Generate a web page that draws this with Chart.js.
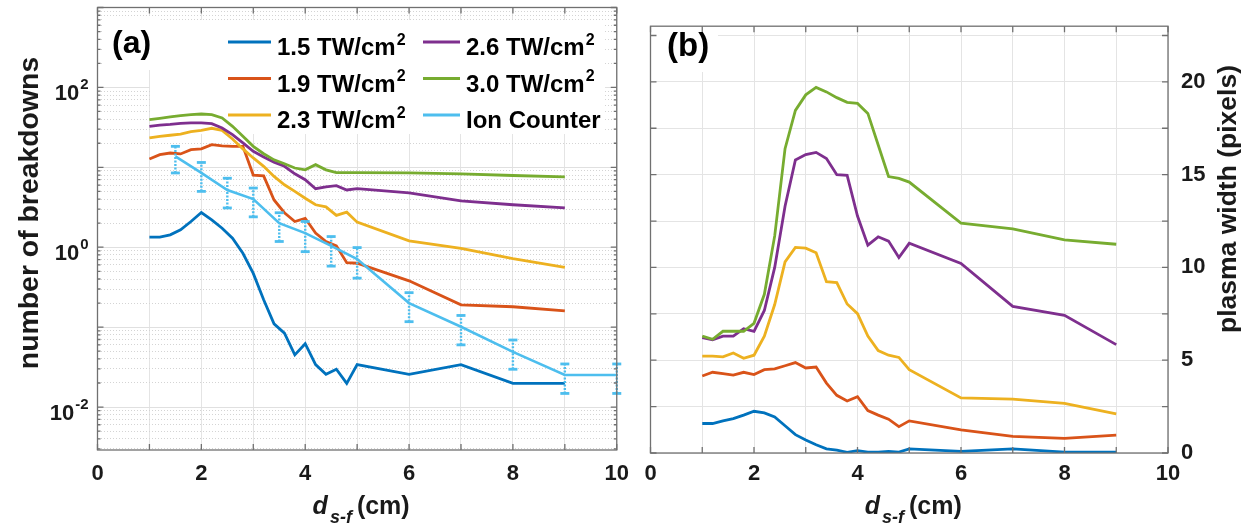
<!DOCTYPE html>
<html>
<head>
<meta charset="utf-8">
<script src="https://cdn.jsdelivr.net/npm/chart.js@4.4.1/dist/chart.umd.min.js"></script>
<style>
  html, body { margin: 0; padding: 0; background: #fff; }
  #wrap { position: relative; width: 1251px; height: 529px; overflow: hidden; }
  #chartA { position: absolute; left: 0; top: 0; }
  #chartB { position: absolute; left: 630px; top: 0; }
</style>
</head>
<body>
<div id="wrap">
  <canvas id="chartA" width="640" height="529"></canvas>
  <canvas id="chartB" width="621" height="529"></canvas>
</div>
<script>
// ── Data ───────────────────────────────────────────────────────────
// source-focus distance d_s-f (cm), shared by all intensity series
const distances = [1, 1.2, 1.4, 1.6, 1.8, 2, 2.2, 2.4, 2.6, 2.8, 3, 3.2, 3.4, 3.6, 3.8,
  4, 4.2, 4.4, 4.6, 4.8, 5, 6, 7, 8, 9];

const seriesLabels = ['1.5 TW/cm²', '1.9 TW/cm²', '2.3 TW/cm²', '2.6 TW/cm²', '3.0 TW/cm²'];
const seriesColors = ['#0072BD', '#D95319', '#EDB120', '#7E2F8E', '#77AC30'];
const ionLabel = 'Ion Counter';
const ionColor = '#4DBEEE';

// (a) number of breakdowns (log axis)
const breakdowns15 = [1.34, 1.34, 1.43, 1.65, 2.1, 2.72, 2.2, 1.73, 1.3, 0.84, 0.47, 0.22, 0.11, 0.084, 0.045,
  0.062, 0.034, 0.0257, 0.0297, 0.0198, 0.034, 0.0257, 0.034, 0.0198, 0.0198];
const breakdowns19 = [12.7, 14.4, 15.1, 14.7, 16.6, 17, 19.2, 18.6, 18.3, 18.3, 8.0, 7.8, 3.9, 2.7, 2.1,
  2.3, 1.5, 1.18, 1.04, 0.64, 0.63, 0.38, 0.19, 0.18, 0.16];
const breakdowns23 = [23.3, 24.4, 25.2, 26, 27.9, 29, 30.8, 29, 22.6, 17, 13.1, 10.3, 7.7, 6.05, 5.0,
  4.1, 3.4, 3.2, 2.5, 2.75, 2.06, 1.2, 0.97, 0.72, 0.56];
const breakdowns26 = [32.6, 33.8, 34.5, 35.5, 35.9, 35.9, 35.2, 31, 25.6, 20.2, 15.9, 13.5, 11.6, 10.3, 8.3,
  7.0, 5.4, 5.7, 5.9, 5.2, 5.4, 4.8, 3.8, 3.4, 3.1];
const breakdowns30 = [39.5, 41, 42.7, 44.4, 45.6, 46.5, 45.6, 41.5, 32.6, 24.4, 18.3, 14.8, 12.4, 11.1, 9.8,
  9.3, 10.8, 9.3, 8.6, 8.6, 8.6, 8.5, 8.3, 7.9, 7.6];

// ion counter with error bars
const ionDistances = [1.5, 2, 2.5, 3, 3.5, 4, 4.5, 5, 6, 7, 8, 9, 10];
const ionCounts = [13.7, 8.5, 5.2, 4.0, 2.0, 1.5, 1.04, 0.71, 0.2, 0.101, 0.049, 0.0252, 0.0252];
const ionHigh = [18.3, 11.5, 7.3, 5.5, 2.7, 2.1, 1.36, 0.99, 0.27, 0.14, 0.069, 0.0346, 0.0346];
const ionLow = [8.5, 5.0, 3.1, 2.4, 1.18, 0.88, 0.58, 0.41, 0.117, 0.06, 0.0297, 0.0148, 0.0148];

// (b) plasma width (pixels)
const width15 = [1.59, 1.59, 1.73, 1.85, 2.04, 2.25, 2.16, 1.94, 1.47, 0.99, 0.7, 0.44, 0.22, 0.15, 0.04,
  0.13, 0.05, 0.05, 0.09, 0.05, 0.22, 0.09, 0.22, 0.05, 0.04];
const width19 = [4.15, 4.35, 4.28, 4.2, 4.35, 4.23, 4.49, 4.53, 4.7, 4.87, 4.58, 4.63, 3.77, 3.11, 2.8,
  3.03, 2.29, 2.04, 1.82, 1.42, 1.73, 1.25, 0.9, 0.79, 0.96];
const width23 = [5.22, 5.22, 5.18, 5.39, 5.1, 5.27, 6.3, 8.0, 10.3, 11.08, 11.04, 10.79, 9.23, 9.18, 8.03,
  7.51, 6.3, 5.52, 5.27, 5.15, 4.49, 2.97, 2.9, 2.68, 2.11];
const width26 = [6.22, 6.1, 6.3, 6.3, 6.7, 6.56, 7.68, 10.0, 13.3, 15.79, 16.08, 16.2, 15.87, 15.0, 14.96,
  12.77, 11.2, 11.65, 11.42, 10.53, 11.3, 10.22, 7.9, 7.42, 5.84];
const width30 = [6.3, 6.13, 6.56, 6.56, 6.56, 6.99, 8.55, 11.7, 16.4, 18.46, 19.3, 19.7, 19.46, 19.15, 18.9,
  18.84, 18.3, 16.6, 14.9, 14.8, 14.6, 12.39, 12.08, 11.48, 11.25];

// ── Axis ticks and titles ─────────────────────────────────────────
const xTickValues = [0, 1, 2, 3, 4, 5, 6, 7, 8, 9, 10];
const widthTickValues = [0, 2.5, 5, 7.5, 10, 12.5, 15, 17.5, 20, 22.5];
const decadeExponents = [-2, 0, 2];           // labelled decades on the log axis
const logMin = 0.0029, logMax = 1000;
const yTitleA = 'number of breakdowns';
const yTitleB = 'plasma width (pixels)';
const xTitleParts = ['d', 's-f', '(cm)'];

// ── Styling helpers ───────────────────────────────────────────────
const FONT = '"Liberation Sans", Arial, Helvetica, sans-serif';
const TEXT = '#1a1a1a';
const FRAME = '#707070';
Chart.defaults.font.family = FONT;

function font(size, style) {
  return (style || 'bold') + ' ' + size + 'px ' + FONT;
}

function isDecade(v) {
  const l = Math.log10(v);
  return Math.abs(l - Math.round(l)) < 1e-9;
}

// every 1..9 x 10^n inside the log range
function buildLogTicks() {
  const out = [];
  for (let e = -3; e <= 3; e++) {
    for (let k = 1; k <= 9; k++) {
      const v = parseFloat((k * Math.pow(10, e)).toPrecision(3));
      if (v >= logMin && v <= logMax) out.push(v);
    }
  }
  return out;
}

function lineSet(label, values, color, order) {
  return {
    label: label,
    data: distances.map(function (d, i) { return { x: d, y: values[i] }; }),
    borderColor: color,
    backgroundColor: color,
    borderWidth: 2.8,
    pointRadius: 0,
    tension: 0,
    fill: false,
    order: order,
  };
}

// text ending in "²" gets a raised small 2
function drawSupLabel(ctx, text, x, y, size) {
  let base = text, sup = '';
  if (text.endsWith('²')) { base = text.slice(0, -1); sup = '2'; }
  ctx.font = font(size);
  ctx.textAlign = 'left';
  ctx.fillText(base, x, y);
  if (sup) {
    const w = ctx.measureText(base).width;
    ctx.font = font(Math.round(size * 0.68));
    ctx.fillText(sup, x + w + 1, y - size * 0.42);
  }
}

function drawFrame(chart, majorTest) {
  const ctx = chart.ctx, a = chart.chartArea;
  const xs = chart.scales.x, ys = chart.scales.y;
  ctx.save();
  ctx.strokeStyle = FRAME;
  ctx.lineWidth = 1.3;
  ctx.beginPath();
  xs.ticks.forEach(function (t) {
    const px = xs.getPixelForValue(t.value);
    ctx.moveTo(px, a.bottom); ctx.lineTo(px, a.bottom - 6);
    ctx.moveTo(px, a.top); ctx.lineTo(px, a.top + 6);
  });
  ys.ticks.forEach(function (t) {
    const py = ys.getPixelForValue(t.value);
    const len = majorTest(t.value) ? 6 : 3;
    ctx.moveTo(a.left, py); ctx.lineTo(a.left + len, py);
    ctx.moveTo(a.right, py); ctx.lineTo(a.right - len, py);
  });
  ctx.stroke();
  ctx.strokeRect(a.left, a.top, a.right - a.left, a.bottom - a.top);
  ctx.restore();
}

function drawRotatedTitle(ctx, text, cx, cy, targetWidth) {
  ctx.save();
  ctx.font = font(22);
  const size = 22 * targetWidth / ctx.measureText(text).width;
  ctx.font = font(size.toFixed(1));
  ctx.translate(cx, cy);
  ctx.rotate(-Math.PI / 2);
  ctx.textAlign = 'center';
  ctx.textBaseline = 'middle';
  ctx.fillStyle = TEXT;
  ctx.fillText(text, 0, 0);
  ctx.restore();
}

function drawDistanceTitle(ctx, cx, baseline) {
  const main = font(25, 'italic bold'), sub = font(18, 'italic bold'), plain = font(25);
  ctx.save();
  ctx.fillStyle = TEXT;
  ctx.textAlign = 'left';
  ctx.textBaseline = 'alphabetic';
  ctx.font = main; const w1 = ctx.measureText(xTitleParts[0]).width;
  ctx.font = sub; const w2 = ctx.measureText(xTitleParts[1]).width;
  ctx.font = plain; const w3 = ctx.measureText(xTitleParts[2]).width;
  const gap1 = 2, gap2 = 5;
  let x = cx - (w1 + gap1 + w2 + gap2 + w3) / 2;
  ctx.font = main; ctx.fillText(xTitleParts[0], x, baseline); x += w1 + gap1;
  ctx.font = sub; ctx.fillText(xTitleParts[1], x, baseline + 9); x += w2 + gap2;
  ctx.font = plain; ctx.fillText(xTitleParts[2], x, baseline);
  ctx.restore();
}

function whiteBoxes(chart, boxes) {
  const ctx = chart.ctx;
  ctx.save();
  ctx.fillStyle = '#fff';
  boxes.forEach(function (b) { ctx.fillRect(b[0], b[1], b[2], b[3]); });
  ctx.restore();
}

const tickFont = { family: FONT, size: 22, weight: 'bold' };

// ── Panel (a) ─────────────────────────────────────────────────────
const breakdownSeries = [breakdowns15, breakdowns19, breakdowns23, breakdowns26, breakdowns30];
const datasetsA = breakdownSeries.map(function (vals, i) {
  return lineSet(seriesLabels[i], vals, seriesColors[i], 6 - i);
});

datasetsA.push({
  label: ionLabel,
  data: ionDistances.map(function (d, i) { return { x: d, y: ionCounts[i] }; }),
  borderColor: ionColor,
  backgroundColor: ionColor,
  borderWidth: 2.6,
  pointRadius: 0,
  tension: 0,
  order: 0,
});

// error bars: low/high pairs separated by gaps
const errorPoints = [];
ionDistances.forEach(function (d, i) {
  errorPoints.push({ x: d, y: ionLow[i] });
  errorPoints.push({ x: d, y: ionHigh[i] });
  errorPoints.push({ x: d, y: null });
});
datasetsA.push({
  label: '',
  isErrorBar: true,
  data: errorPoints,
  borderColor: ionColor,
  borderWidth: 2.4,
  borderDash: [2, 1.5],
  spanGaps: false,
  clip: false,
  pointStyle: 'line',
  pointRadius: 4.5,
  pointBorderWidth: 2.8,
  pointBorderColor: ionColor,
  pointBackgroundColor: ionColor,
  order: 1,
});

const decorA = {
  id: 'decorA',
  beforeDatasetsDraw: function (chart) {
    whiteBoxes(chart, [[104, 16, 56, 54], [150, 20, 455, 114]]);
  },
  afterDraw: function (chart) {
    const ctx = chart.ctx, a = chart.chartArea, ys = chart.scales.y;
    drawFrame(chart, isDecade);

    // decade labels 10^n
    ctx.save();
    ctx.fillStyle = TEXT;
    ctx.textBaseline = 'alphabetic';
    decadeExponents.forEach(function (e) {
      const py = ys.getPixelForValue(Math.pow(10, e));
      const exp = String(e);
      ctx.font = font(15);
      const ew = ctx.measureText(exp).width;
      const right = a.left - 9;
      ctx.textAlign = 'left';
      ctx.fillText(exp, right - ew, py + 2);
      ctx.font = font(22);
      ctx.textAlign = 'right';
      ctx.fillText('10', right - ew - 1, py + 13);
    });
    ctx.restore();

    drawRotatedTitle(ctx, yTitleA, 30, 213, 312);
    drawDistanceTitle(ctx, (a.left + a.right) / 2 + 4, 514);

    ctx.save();
    ctx.fillStyle = '#000';
    ctx.font = font(32);
    ctx.textAlign = 'left';
    ctx.fillText('(a)', 112, 53);

    // legend, 2 columns x 3 rows
    const entries = chart.data.datasets.filter(function (d) { return !d.isErrorBar; });
    const rowsY = [42, 78.5, 115];
    const cols = [{ l0: 228, l1: 271, tx: 277 }, { l0: 423, l1: 460, tx: 466 }];
    entries.forEach(function (d, i) {
      const col = cols[Math.floor(i / 3)], ly = rowsY[i % 3];
      ctx.strokeStyle = d.borderColor;
      ctx.lineWidth = 2.8;
      ctx.beginPath();
      ctx.moveTo(col.l0, ly);
      ctx.lineTo(col.l1, ly);
      ctx.stroke();
      ctx.fillStyle = '#000';
      drawSupLabel(ctx, d.label, col.tx, ly + 13, 24);
    });
    ctx.restore();
  },
};

new Chart(document.getElementById('chartA'), {
  type: 'line',
  data: { datasets: datasetsA },
  options: {
    responsive: false,
    animation: false,
    events: [],
    layout: { padding: { top: 7.5, right: 23, left: 0, bottom: 0 } },
    plugins: { legend: { display: false }, tooltip: { enabled: false } },
    scales: {
      x: {
        type: 'linear',
        min: 0,
        max: 10,
        afterBuildTicks: function (s) { s.ticks = xTickValues.map(function (v) { return { value: v }; }); },
        afterFit: function (s) { s.height = 79; },
        grid: { color: '#e4e4e4', lineWidth: 1, drawTicks: false },
        border: { display: false },
        ticks: {
          padding: 11,
          autoSkip: false,
          maxRotation: 0,
          color: TEXT,
          font: tickFont,
          callback: function (v) { return v % 2 === 0 ? String(v) : ''; },
        },
      },
      y: {
        type: 'logarithmic',
        min: logMin,
        max: logMax,
        afterBuildTicks: function (s) { s.ticks = buildLogTicks().map(function (v) { return { value: v }; }); },
        afterFit: function (s) { s.width = 97.5; },
        grid: {
          drawTicks: false,
          lineWidth: 1,
          color: function (c) { return c.tick && isDecade(c.tick.value) ? '#e0e0e0' : '#d4d4d4'; },
        },
        border: {
          display: false,
          dash: function (c) { return c.tick && !isDecade(c.tick.value) ? [1, 2] : []; },
        },
        ticks: { display: false },
      },
    },
  },
  plugins: [decorA],
});

// ── Panel (b) ─────────────────────────────────────────────────────
const widthSeries = [width15, width19, width23, width26, width30];
const datasetsB = widthSeries.map(function (vals, i) {
  return lineSet(seriesLabels[i], vals, seriesColors[i], 6 - i);
});

const decorB = {
  id: 'decorB',
  beforeDatasetsDraw: function (chart) {
    whiteBoxes(chart, [[25, 14, 63, 58]]);
  },
  afterDraw: function (chart) {
    const ctx = chart.ctx, a = chart.chartArea;
    drawFrame(chart, function () { return true; });
    drawRotatedTitle(ctx, yTitleB, 599, 199, 268);
    drawDistanceTitle(ctx, (a.left + a.right) / 2 + 4, 514);
    ctx.save();
    ctx.fillStyle = '#000';
    ctx.font = font(33);
    ctx.textAlign = 'left';
    ctx.fillText('(b)', 37, 56);
    ctx.restore();
  },
};

new Chart(document.getElementById('chartB'), {
  type: 'line',
  data: { datasets: datasetsB },
  options: {
    responsive: false,
    animation: false,
    events: [],
    layout: { padding: { top: 9, right: 0, left: 20.5, bottom: 0 } },
    plugins: { legend: { display: false }, tooltip: { enabled: false } },
    scales: {
      x: {
        type: 'linear',
        min: 0,
        max: 10,
        afterBuildTicks: function (s) { s.ticks = xTickValues.map(function (v) { return { value: v }; }); },
        afterFit: function (s) { s.height = 76; },
        grid: { color: '#e4e4e4', lineWidth: 1, drawTicks: false },
        border: { display: false },
        ticks: {
          padding: 8,
          autoSkip: false,
          maxRotation: 0,
          color: TEXT,
          font: tickFont,
          callback: function (v) { return v % 2 === 0 ? String(v) : ''; },
        },
      },
      y: {
        type: 'linear',
        position: 'right',
        min: 0,
        max: 23,
        afterBuildTicks: function (s) { s.ticks = widthTickValues.map(function (v) { return { value: v }; }); },
        afterFit: function (s) { s.width = 83; },
        grid: { color: '#e4e4e4', lineWidth: 1, drawTicks: false },
        border: { display: false },
        ticks: {
          padding: 13,
          autoSkip: false,
          color: TEXT,
          font: tickFont,
          callback: function (v) { return v % 5 === 0 ? String(v) : ''; },
        },
      },
    },
  },
  plugins: [decorB],
});
</script>
</body>
</html>
